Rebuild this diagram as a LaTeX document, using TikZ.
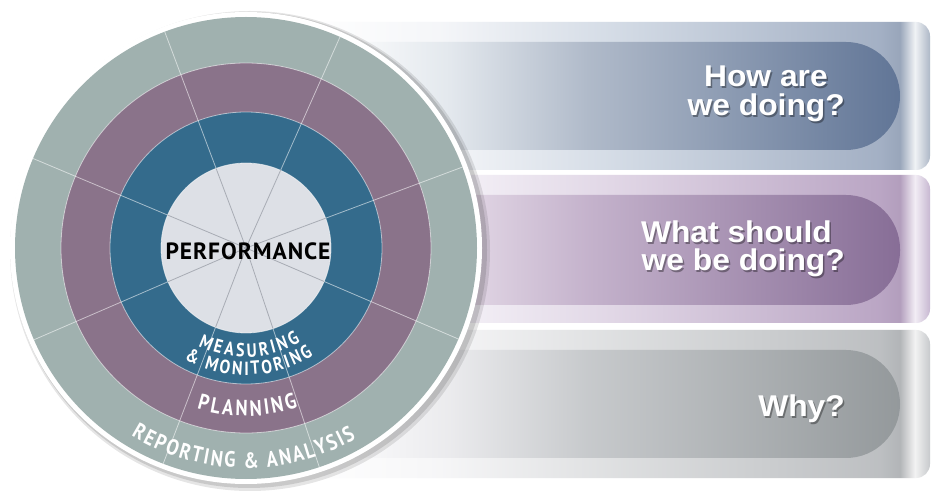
\documentclass[tikz,border=0pt]{standalone}
\usepackage{fontspec}
\setmainfont{Liberation Sans}
\newfontfamily\arcfont[FakeStretch=0.84]{PT Sans}
\newfontfamily\perffont[LetterSpace=4]{PT Sans}
\newfontfamily\qfont[FakeStretch=1.06]{Liberation Sans}
\usetikzlibrary{decorations.text,calc}
\definecolor{ringG}{RGB}{160,177,175}
\definecolor{ringP}{RGB}{138,115,138}
\definecolor{ringB}{RGB}{52,107,140}
\definecolor{ringC}{RGB}{221,224,230}
\definecolor{spokeIn}{RGB}{168,172,180}
\pgfdeclarehorizontalshading{bandA}{100bp}{rgb(0bp)=(1,1,1); rgb(25bp)=(1,1,1); rgb(36bp)=(.96,.965,.975); rgb(50bp)=(.83,.86,.90); rgb(71bp)=(.64,.69,.77); rgb(72.6bp)=(.60,.65,.73); rgb(73.8bp)=(.94,.95,.96); rgb(75bp)=(.68,.72,.78); rgb(100bp)=(.68,.72,.78)}
\pgfdeclarehorizontalshading{pillA}{100bp}{rgb(0bp)=(1,1,1); rgb(25bp)=(1,1,1); rgb(30bp)=(.97,.975,.98); rgb(37.5bp)=(.89,.91,.93); rgb(49bp)=(.69,.73,.79); rgb(75bp)=(.38,.46,.59); rgb(100bp)=(.38,.46,.59)}
\pgfdeclarehorizontalshading{bandB}{100bp}{rgb(0bp)=(1,1,1); rgb(25bp)=(1,1,1); rgb(36bp)=(.965,.955,.975); rgb(50bp)=(.88,.84,.90); rgb(71bp)=(.73,.65,.77); rgb(72.6bp)=(.70,.62,.74); rgb(73.8bp)=(.95,.93,.96); rgb(75bp)=(.78,.72,.82); rgb(100bp)=(.78,.72,.82)}
\pgfdeclarehorizontalshading{pillB}{100bp}{rgb(0bp)=(1,1,1); rgb(25bp)=(1,1,1); rgb(30bp)=(.97,.96,.975); rgb(37.5bp)=(.90,.86,.91); rgb(49bp)=(.77,.70,.80); rgb(75bp)=(.53,.43,.59); rgb(100bp)=(.53,.43,.59)}
\pgfdeclarehorizontalshading{bandC}{100bp}{rgb(0bp)=(1,1,1); rgb(25bp)=(1,1,1); rgb(36bp)=(.965,.965,.97); rgb(50bp)=(.87,.875,.88); rgb(71bp)=(.74,.75,.76); rgb(72.6bp)=(.70,.71,.72); rgb(73.8bp)=(.95,.95,.95); rgb(75bp)=(.78,.79,.80); rgb(100bp)=(.78,.79,.80)}
\pgfdeclarehorizontalshading{pillC}{100bp}{rgb(0bp)=(1,1,1); rgb(25bp)=(1,1,1); rgb(30bp)=(.975,.975,.98); rgb(37.5bp)=(.92,.92,.93); rgb(49bp)=(.78,.79,.80); rgb(75bp)=(.58,.60,.61); rgb(100bp)=(.58,.60,.61)}
\tikzset{
  qtext/.style={font=\qfont\bfseries\fontsize{30}{30}\selectfont, text=white, inner sep=0pt, anchor=base east},
  qshadow/.style={font=\qfont\bfseries\fontsize{30}{30}\selectfont, text=black, text opacity=.35, inner sep=0pt, anchor=base east},
  spoke/.style={white, opacity=.55, line width=.8pt},
  ringline/.style={white, opacity=.55, line width=.8pt},
}
\begin{document}
\begin{tikzpicture}[x=1pt,y=1pt]
\useasboundingbox (0,0) rectangle (935,493);
\fill[white] (0,0) rectangle (935,493);
\coordinate (C) at (246,245);
% bands
\shade[shading=bandA, rounded corners=14] (300,323) rectangle (930,471);
\shade[shading=pillA, rounded corners=54] (300,343) rectangle (900,451);
\shade[shading=bandB, rounded corners=14] (300,170) rectangle (930,318);
\shade[shading=pillB, rounded corners=54] (300,188) rectangle (900,298);
\shade[shading=bandC, rounded corners=14] (300,15) rectangle (930,163);
\shade[shading=pillC, rounded corners=54] (300,35) rectangle (900,143);
% question texts
\node[qshadow] at (829.5,404.5) {How are};
\node[qtext] (q1a) at (828,406) {How are};
\node[qshadow] at (846.5,375.5) {we doing?};
\node[qtext] (q1b) at (845,377) {we doing?};
\node[qshadow] at (833.5,248.5) {What should};
\node[qtext] (q2a) at (832,250) {What should};
\node[qshadow] at (846.5,220.5) {we be doing?};
\node[qtext] (q2b) at (845,222) {we be doing?};
\node[qshadow] at (846.5,74.5) {Why?};
\node[qtext] (q3) at (845,76) {Why?};
% circle shadow and rim
\fill[black, opacity=.10] ($(C)+(4,-3)$) circle (240);
\fill[black, opacity=.12] ($(C)+(3,-2)$) circle (238);
\fill[white] (C) circle (236);
% rings
\fill[ringG] (C) circle (231);
\fill[ringP] (C) circle (185);
\fill[ringB] (C) circle (136);
\fill[ringC] (C) circle (85);
\draw[ringline] (C) circle (185);
\draw[ringline] (C) circle (136);
\draw[ringline] (C) circle (85);
% spokes
\foreach \a in {20.5,66,110.6,157.2,203.4,249,288.5,336.8}{
  \draw[spoke] (C) ++(\a:85) -- ++(\a:146);
  \draw[spokeIn, line width=.8pt] (C) -- ++(\a:85);
}
% labels
\node[font=\perffont\bfseries\fontsize{23.5}{23.5}\selectfont, text=black] (perf) at (248,242) {PERFORMANCE};
\path[decorate, decoration={text along path, text={|\arcfont\bfseries\fontsize{19}{19}\selectfont|MEASURING}, text color=white, text align=fit to path}]
  (C) ++(244:109) arc[start angle=244, end angle=300, radius=109];
\path[decorate, decoration={text along path, text={|\arcfont\bfseries\fontsize{19}{19}\selectfont|{\&} MONITORING}, text color=white, text align=fit to path}]
  (C) ++(241:127) arc[start angle=241, end angle=302, radius=127];
\path[decorate, decoration={text along path, text={|\arcfont\bfseries\fontsize{22}{22}\selectfont|PLANNING}, text color=white, text align=fit to path}]
  (C) ++(253:168) arc[start angle=253, end angle=288, radius=168];
\path[decorate, decoration={text along path, text={|\arcfont\bfseries\fontsize{22}{22}\selectfont|REPORTING {\&} ANALYSIS}, text color=white, text align=fit to path}]
  (C) ++(238.5:220) arc[start angle=238.5, end angle=300, radius=220];
\end{tikzpicture}
\end{document}
